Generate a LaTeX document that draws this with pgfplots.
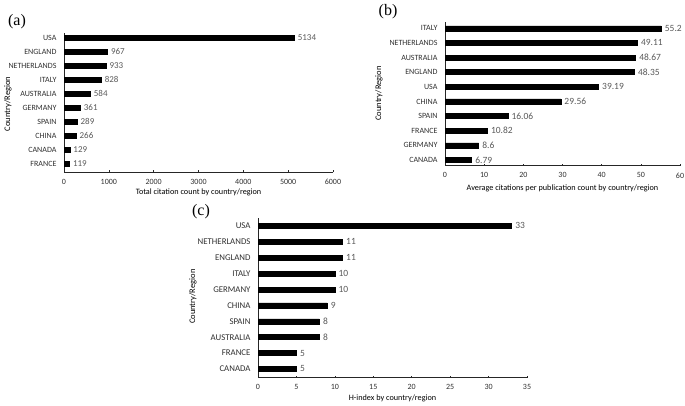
\documentclass[border=0pt]{standalone}
\usepackage{fontspec}
\setmainfont{Carlito}
\newfontfamily\panelfont{Liberation Serif}
\usepackage{pgfplots}
\pgfplotsset{compat=1.18}
\definecolor{vallab}{HTML}{595959}
\definecolor{ticklab}{HTML}{303030}

\pgfplotsset{
  hbar/.style={
    scale only axis,
    xbar, bar width=5pt,
    axis x line=bottom, axis y line=left,
    axis line style={-, black!85, line width=0.6pt},
    xmin=0,
    ytick={0,...,9},
    ytick style={draw=none},
    tick align=inside,
    major tick length=2pt,
    xtick style={black!85, line width=0.5pt},
    tick label style={font=\fontsize{8}{9}\selectfont, text=ticklab},
    yticklabel style={xshift=-4pt},
    xticklabel style={yshift=-3.5pt},
    /pgf/number format/assume math mode=true,
    /pgf/number format/1000 sep={},
    nodes near coords,
    point meta=explicit symbolic,
    nodes near coords style={anchor=west, inner sep=0pt, xshift=3.5pt, text=vallab, font=\fontsize{9.5}{10}\selectfont},
    cycle list={{fill=black, draw=none}},
    clip=false,
  },
}

\begin{document}
\begin{tikzpicture}[x=1pt,y=1pt]
\useasboundingbox (0,0) rectangle (685,405);

% (a) total citations
\begin{axis}[hbar,
  at={(64pt,232.7pt)}, anchor=south west,
  width=269pt, height=139.6pt,
  xmax=6000, xtick={0,1000,...,6000},
  ymin=-0.6, ymax=9.35,
  nodes near coords style={font=\fontsize{9}{10}\selectfont},
  yticklabels={FRANCE,CANADA,CHINA,SPAIN,GERMANY,AUSTRALIA,ITALY,NETHERLANDS,ENGLAND,USA},
]
\addplot coordinates {(119,0)[119] (129,1)[129] (266,2)[266] (289,3)[289] (361,4)[361]
  (584,5)[584] (828,6)[828] (933,7)[933] (967,8)[967] (5134,9)[5134]};
\end{axis}
\node[font=\fontsize{8.2}{9}\selectfont] at (198.5,212.3) {Total citation count by country/region};
\node[font=\fontsize{8.5}{9}\selectfont, rotate=90] at (8,301) {Country/Region};
\node[font=\panelfont\fontsize{16}{18}\selectfont] at (17,383.5) {(a)};

% (b) average citations
\begin{axis}[hbar,
  at={(445pt,239.3pt)}, anchor=south west,
  width=235pt, height=144pt,
  xmax=60, xtick={0,10,...,60},
  ymin=-0.39, ymax=9.45,
  yticklabels={CANADA,GERMANY,FRANCE,SPAIN,CHINA,USA,ENGLAND,AUSTRALIA,NETHERLANDS,ITALY},
]
\addplot coordinates {(6.79,0)[6.79] (8.6,1)[8.6] (10.82,2)[10.82] (16.06,3)[16.06] (29.56,4)[29.56]
  (39.19,5)[39.19] (48.35,6)[48.35] (48.67,7)[48.67] (49.11,8)[49.11] (55.2,9)[55.2]};
\end{axis}
\node[font=\fontsize{8.2}{9}\selectfont] at (562.5,216.7) {Average citations per publication count by country/region};
\node[font=\fontsize{8.5}{9}\selectfont, rotate=90] at (379,311.5) {Country/Region};
\node[font=\panelfont\fontsize{16}{18}\selectfont] at (388,393) {(b)};

% (c) H-index
\begin{axis}[hbar,
  at={(258pt,27.3pt)}, anchor=south west,
  width=269pt, height=159.4pt,
  xmax=35, xtick={0,5,...,35},
  ymin=-0.55, ymax=9.48,
  yticklabel style={font=\fontsize{8.8}{9}\selectfont},
  yticklabels={CANADA,FRANCE,AUSTRALIA,SPAIN,CHINA,GERMANY,ITALY,ENGLAND,NETHERLANDS,USA},
]
\addplot coordinates {(5,0)[5] (5,1)[5] (8,2)[8] (8,3)[8] (9,4)[9]
  (10,5)[10] (10,6)[10] (11,7)[11] (11,8)[11] (33,9)[33]};
\end{axis}
\node[font=\fontsize{8.2}{9}\selectfont] at (392.5,7) {H-index by country/region};
\node[font=\fontsize{8.5}{9}\selectfont, rotate=90] at (193,108.3) {Country/Region};
\node[font=\panelfont\fontsize{16}{18}\selectfont] at (201,193.5) {(c)};
\end{tikzpicture}
\end{document}
